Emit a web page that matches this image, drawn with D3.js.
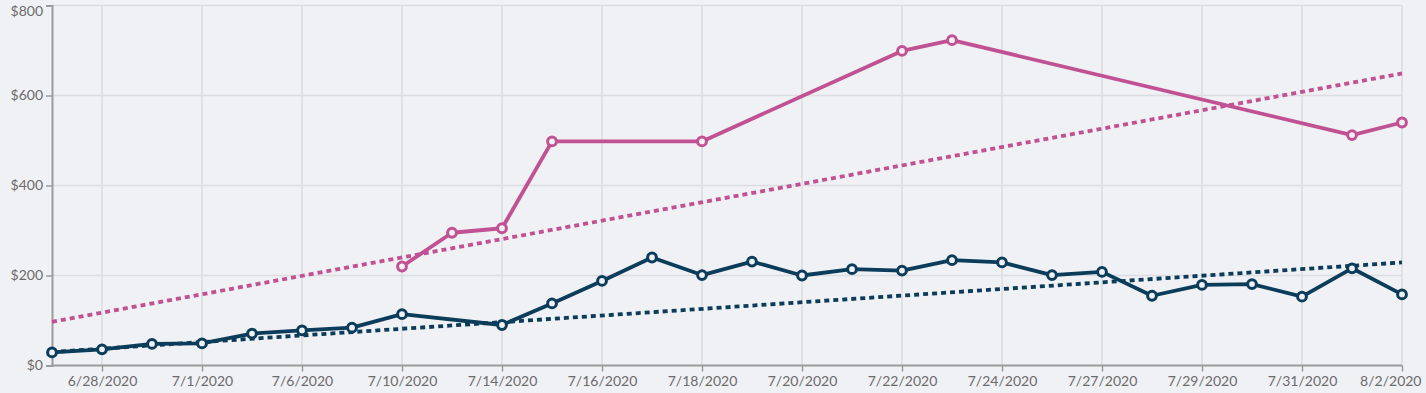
<!DOCTYPE html>
<html>
<head>
<meta charset="utf-8">
<script src="https://cdn.jsdelivr.net/npm/d3@7"></script>
<style>
  html, body { margin: 0; padding: 0; background: #f0f1f5; }
  svg { display: block; }
  text { font-family: Lato, "Open Sans", sans-serif; }
</style>
</head>
<body>
<svg id="chart" width="1426" height="393"></svg>
<script>
// ---- data ----
const dates = ["6/27/2020","6/28/2020","6/30/2020","7/1/2020","7/3/2020","7/6/2020","7/8/2020",
  "7/10/2020","7/12/2020","7/14/2020","7/15/2020","7/16/2020","7/17/2020","7/18/2020",
  "7/19/2020","7/20/2020","7/21/2020","7/22/2020","7/23/2020","7/24/2020","7/25/2020",
  "7/27/2020","7/28/2020","7/29/2020","7/30/2020","7/31/2020","8/1/2020","8/2/2020"];
const tickDates = ["6/28/2020","7/1/2020","7/6/2020","7/10/2020","7/14/2020","7/16/2020","7/18/2020",
  "7/20/2020","7/22/2020","7/24/2020","7/27/2020","7/29/2020","7/31/2020","8/2/2020"];
const navyValues = [29,36,48,49,71,78,84,114,null,90,138,188,240,201,231,200,214,211,234,229,201,
  208,155,179,181,153,216,158];
const magentaValues = [null,null,null,null,null,null,null,220,295,305,498,null,null,498,null,null,null,
  699,723,null,null,null,null,null,null,null,512,540];
const navyTrend = [30,229];      // value at first and last date
const magentaTrend = [97,649];
const yTicks = [0,200,400,600,800];

// ---- layout ----
const bg = "#f0f1f5";
const navy = "#0b3d5b";
const magenta = "#c05192";
const svg = d3.select("#chart");
const x = d3.scalePoint().domain(dates).range([52, 1402]).padding(0);
const y = d3.scaleLinear().domain([0, 800]).range([365.5, 5.5]);

// grid
const grid = svg.append("g");
grid.selectAll("line.h").data(yTicks.filter(d => d > 0)).join("line")
  .attr("x1", 52).attr("x2", 1402).attr("y1", d => y(d)).attr("y2", d => y(d))
  .attr("stroke", "#dcdde1").attr("stroke-width", 1.6);
grid.selectAll("line.v").data(tickDates).join("line")
  .attr("x1", d => x(d)).attr("x2", d => x(d)).attr("y1", y(800)).attr("y2", y(0))
  .attr("stroke", "#dcdde1").attr("stroke-width", 1.6);

// axes
const xAxis = svg.append("g").attr("transform", `translate(0,${y(0)})`)
  .call(d3.axisBottom(x).tickValues(tickDates).tickSizeOuter(0).tickSize(6).tickPadding(5));
const yAxis = svg.append("g").attr("transform", `translate(52,0)`)
  .call(d3.axisLeft(y).tickValues(yTicks).tickFormat(d => "$" + d).tickSizeOuter(0).tickSize(6).tickPadding(3));
[xAxis, yAxis].forEach(g => {
  g.select(".domain").attr("stroke", "#9b9b9b").attr("stroke-width", 2);
  g.selectAll(".tick line").attr("stroke", "#9b9b9b").attr("stroke-width", 1.5);
  g.selectAll(".tick text").attr("fill", "#6b6b6b").style("font-size", "14px")
    .style("font-family", "Lato, 'Open Sans', sans-serif");
});
xAxis.select(".domain").attr("d", `M52,0H1402`);
// keep edge labels inside the frame
xAxis.selectAll(".tick").filter(d => d === tickDates[tickDates.length - 1])
  .select("text").attr("text-anchor", "end").attr("x", 19);
yAxis.selectAll(".tick").filter(d => d === 800)
  .select("text").attr("dy", "0.32em").attr("y", 5.5);

// trend lines
function trend(vals, color) {
  svg.append("line")
    .attr("x1", x(dates[0])).attr("x2", x(dates[dates.length - 1]))
    .attr("y1", y(vals[0])).attr("y2", y(vals[1]))
    .attr("stroke", color).attr("stroke-width", 3.8).attr("stroke-dasharray", "5,4");
}
trend(magentaTrend, magenta);
trend(navyTrend, navy);

// series
function series(vals, color) {
  const pts = dates.map((d, i) => ({ d, v: vals[i] })).filter(p => p.v != null);
  const line = d3.line().x(p => x(p.d)).y(p => y(p.v));
  svg.append("path").datum(pts).attr("d", line)
    .attr("fill", "none").attr("stroke", color).attr("stroke-width", 3.8)
    .attr("stroke-linejoin", "round");
  svg.append("g").selectAll("circle").data(pts).join("circle")
    .attr("cx", p => x(p.d)).attr("cy", p => y(p.v)).attr("r", 4.4)
    .attr("fill", bg).attr("stroke", color).attr("stroke-width", 3);
}
series(navyValues, navy);
series(magentaValues, magenta);
</script>
</body>
</html>
